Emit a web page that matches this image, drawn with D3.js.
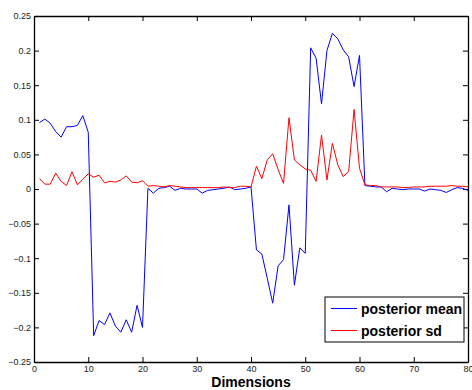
<!DOCTYPE html>
<html>
<head>
<meta charset="utf-8">
<script src="https://cdnjs.cloudflare.com/ajax/libs/d3/7.8.5/d3.min.js"></script>
<style>
  body { margin: 0; background: #fff; }
  svg { display: block; font-family: "Liberation Sans", Arial, sans-serif; }
</style>
</head>
<body>
<svg id="chart" width="472" height="390"></svg>
<script>
// dimension index 1..80
const dims = d3.range(1, 81)

const posteriorMean = [
  0.096, 0.101, 0.095, 0.083, 0.075, 0.090, 0.090, 0.092, 0.106, 0.082,
  -0.212, -0.190, -0.196, -0.179, -0.198, -0.207, -0.189, -0.207, -0.168, -0.200,
  0.001, -0.006, 0.001, 0.002, 0.004, -0.002, 0.001, 0.000, 0.000, 0.000,
  -0.006, -0.002, -0.001, 0.000, 0.001, 0.003, -0.001, 0.000, 0.001, 0.003,
  -0.088, -0.094, -0.129, -0.165, -0.111, -0.102, -0.023, -0.139, -0.085, -0.093,
  0.204, 0.189, 0.123, 0.200, 0.225, 0.217, 0.201, 0.191, 0.148, 0.193,
  0.005, 0.004, 0.003, 0.003, -0.004, 0.001, 0.000, -0.001, 0.000, 0.000,
  0.000, -0.003, 0.000, -0.001, -0.002, -0.005, -0.001, 0.002, 0.001, -0.002
]

const posteriorSd = [
  0.015, 0.007, 0.007, 0.023, 0.011, 0.005, 0.025, 0.006, 0.014, 0.022,
  0.017, 0.020, 0.009, 0.011, 0.010, 0.013, 0.019, 0.010, 0.009, 0.012,
  0.004, 0.005, 0.004, 0.003, 0.005, 0.004, 0.003, 0.002, 0.002, 0.002,
  0.002, 0.002, 0.002, 0.002, 0.003, 0.002, 0.002, 0.004, 0.004, 0.003,
  0.033, 0.015, 0.042, 0.051, 0.028, 0.008, 0.103, 0.042, 0.035, 0.029,
  0.027, 0.011, 0.078, 0.013, 0.066, 0.035, 0.018, 0.025, 0.115, 0.030,
  0.006, 0.005, 0.005, 0.003, 0.003, 0.003, 0.003, 0.002, 0.002, 0.003,
  0.003, 0.003, 0.004, 0.004, 0.004, 0.004, 0.005, 0.004, 0.004, 0.003
]

const xTicks = [0, 10, 20, 30, 40, 50, 60, 70, 80]
const yTicks = [-0.25, -0.2, -0.15, -0.1, -0.05, 0, 0.05, 0.1, 0.15, 0.2, 0.25]
const seriesNames = ['posterior mean', 'posterior sd']
const seriesColors = ['#0000ff', '#ff0000']

const margin = { left: 34, right: 4, top: 16, bottom: 28 }
const width = 472
const height = 390

const svg = d3.select('#chart')

const x = d3.scaleLinear().domain([0, 80]).range([margin.left, width - margin.right])
const y = d3.scaleLinear().domain([-0.25, 0.25]).range([height - margin.bottom, margin.top])

// white plot area
svg.append('rect')
  .attr('x', x(0)).attr('y', y(0.25))
  .attr('width', x(80) - x(0)).attr('height', y(-0.25) - y(0.25))
  .attr('fill', '#fff')

const tickLen = 5
const fmtY = v => v === 0 ? '0' : d3.format('')(+v.toFixed(2)).replace('-', '\u2212')

// axes with inward ticks (matlab style box)
const xAxisBottom = d3.axisBottom(x).tickValues(xTicks).tickSizeInner(-tickLen).tickSizeOuter(0).tickPadding(4)
const xAxisTop = d3.axisTop(x).tickValues(xTicks).tickSizeInner(-tickLen).tickSizeOuter(0).tickFormat('')
const yAxisLeft = d3.axisLeft(y).tickValues(yTicks).tickSizeInner(-tickLen).tickSizeOuter(0).tickPadding(3).tickFormat(fmtY)
const yAxisRight = d3.axisRight(y).tickValues(yTicks).tickSizeInner(-tickLen).tickSizeOuter(0).tickFormat('')

function styleAxis(g) {
  g.select('.domain').attr('stroke', '#000').attr('stroke-width', 1.3)
  g.selectAll('.tick line').attr('stroke', '#000')
  g.selectAll('.tick text').attr('fill', '#222').style('font-size', '9px').style('font-family', '"Liberation Sans", Arial, sans-serif')
}

svg.append('g').attr('transform', `translate(0,${y(-0.25)})`).call(xAxisBottom).call(styleAxis)
svg.append('g').attr('transform', `translate(0,${y(0.25)})`).call(xAxisTop).call(styleAxis)
svg.append('g').attr('transform', `translate(${x(0)},0)`).call(yAxisLeft).call(styleAxis)
svg.append('g').attr('transform', `translate(${x(80)},0)`).call(yAxisRight).call(styleAxis)

// lines
const line = d3.line().x((d, i) => x(dims[i])).y(d => y(d))

svg.append('path')
  .datum(posteriorMean)
  .attr('d', line)
  .attr('fill', 'none')
  .attr('stroke', seriesColors[0])
  .attr('stroke-width', 1)

svg.append('path')
  .datum(posteriorSd)
  .attr('d', line)
  .attr('fill', 'none')
  .attr('stroke', seriesColors[1])
  .attr('stroke-width', 1)

// x label
svg.append('text')
  .attr('x', (x(0) + x(80)) / 2)
  .attr('y', 387)
  .attr('text-anchor', 'middle')
  .style('font-size', '14px')
  .style('font-weight', 'bold')
  .text('Dimensions')

// legend
const legend = svg.append('g').attr('transform', 'translate(325,297)')
legend.append('rect')
  .attr('width', 139).attr('height', 45)
  .attr('fill', '#fff').attr('stroke', '#000').attr('stroke-width', 1)

const item = legend.selectAll('.item')
  .data(seriesNames)
  .enter().append('g')
  .attr('class', 'item')
  .attr('transform', (d, i) => `translate(0,${11.5 + i * 22})`)

item.append('line')
  .attr('x1', 6).attr('x2', 32)
  .attr('stroke', (d, i) => seriesColors[i])
  .attr('stroke-width', 1)

item.append('text')
  .attr('x', 36)
  .attr('y', 5)
  .style('font-size', '14px')
  .style('font-weight', 'bold')
  .text(d => d)
</script>
</body>
</html>
